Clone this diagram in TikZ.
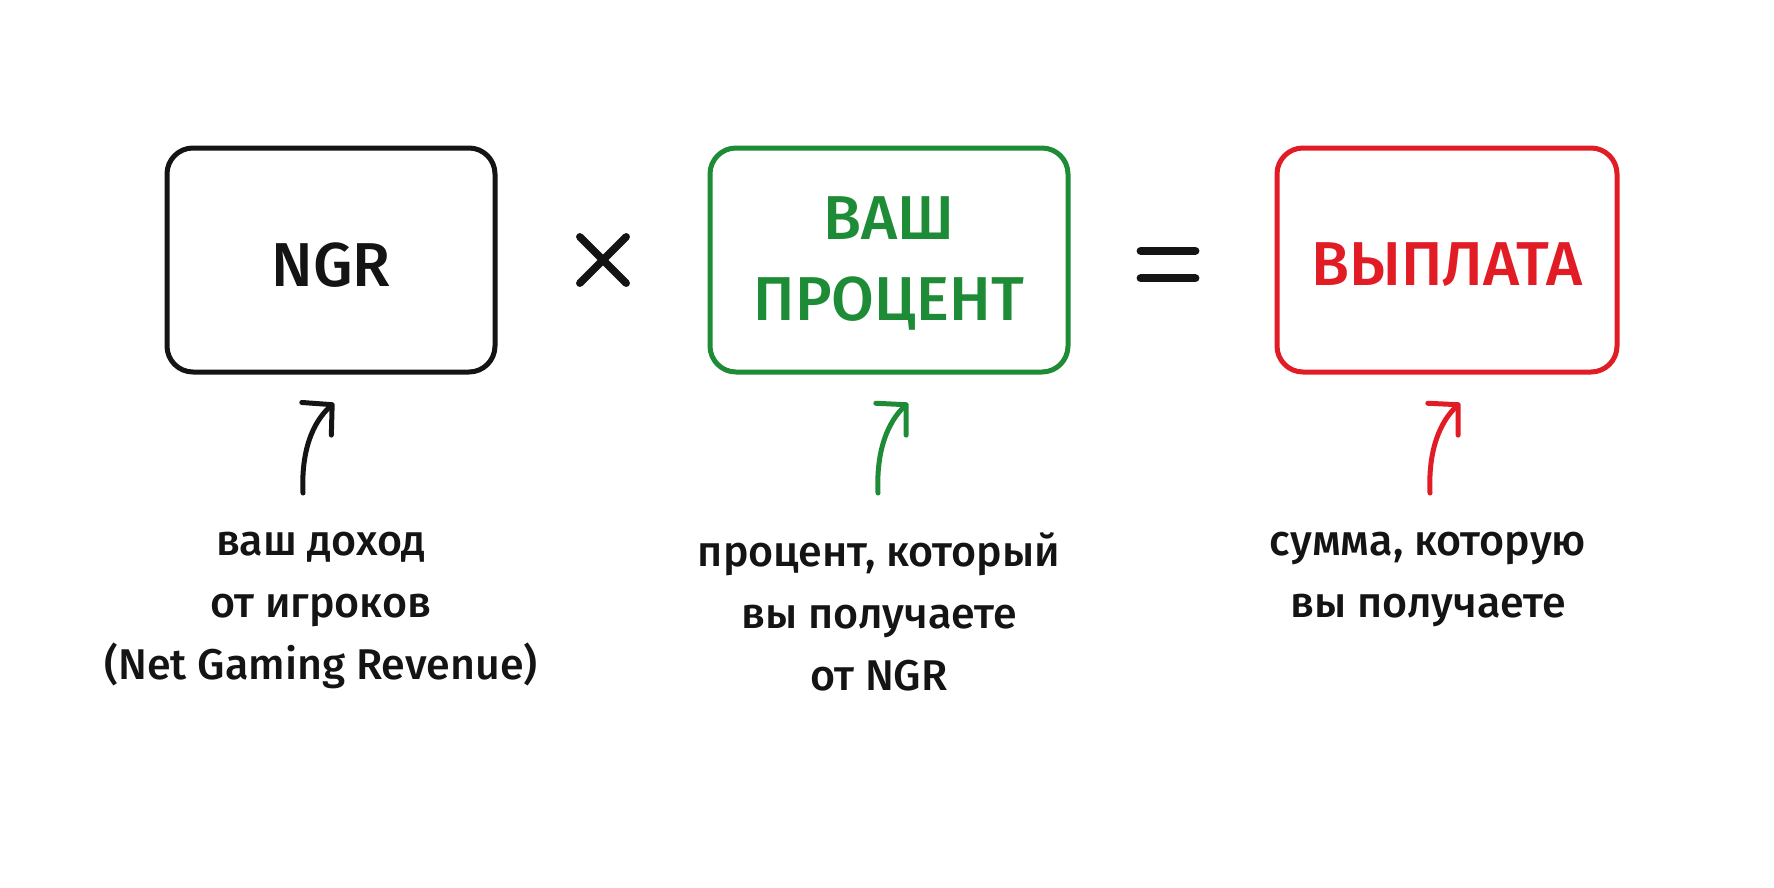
\documentclass[tikz,border=0pt]{standalone}
\usepackage{fontspec}
\setmainfont{Fira Sans}
\newfontfamily\medfont{Fira Sans Medium}
\usetikzlibrary{arrows.meta}
\definecolor{ink}{RGB}{20,20,20}
\definecolor{grn}{RGB}{30,140,55}
\definecolor{rd}{RGB}{226,28,36}
\tikzset{
  termbox/.style={draw, line width=5pt, rounded corners=26pt, minimum height=224pt},
  boxtext/.style={align=center, font=\medfont\fontsize{62}{80}\selectfont},
  caption/.style={align=center, font=\medfont\fontsize{43}{62}\selectfont, text=ink, anchor=north},
  uparrow/.style={line width=5pt, line cap=round, -{Straight Barb[length=21pt, width=44pt, line width=5pt, round]}},
  opsym/.style={line width=7.5pt, line cap=round, ink}
}
\begin{document}
\begin{tikzpicture}[x=1pt,y=-1pt]
\useasboundingbox[fill=white] (0,0) rectangle (1774,887);
% boxes
\node[termbox, ink, minimum width=328pt] (ngr) at (331,260) {};
\node[termbox, grn, minimum width=358pt] (pct) at (889,260) {};
\node[termbox, rd, minimum width=340pt] (pay) at (1447,260) {};
\node[boxtext, text=ink] (ngrt) at ([yshift=-5pt]ngr.center) {NGR};
\node[boxtext, text=grn] (pctt) at ([yshift=-3pt]pct.center) {ВАШ\\[1pt]ПРОЦЕНТ};
\node[boxtext, text=rd] (payt) at ([yshift=-5pt]pay.center) {ВЫПЛАТА};
% operators
\node[minimum size=46pt, inner sep=0pt] (times) at (603,260) {};
\draw[opsym] (times.north west) -- (times.south east);
\draw[opsym] (times.north east) -- (times.south west);
\node[minimum width=54pt, minimum height=27pt, inner sep=0pt] (eq) at (1168,264.5) {};
\draw[opsym, line width=8.5pt] (eq.north west) -- (eq.north east);
\draw[opsym, line width=8.5pt] (eq.south west) -- (eq.south east);
% captions
\node[caption] (c1) at (321,529) {ваш доход\\от игроков\\(Net Gaming Revenue)};
\node[caption] (c2) at (879,529) {процент, который\\вы получаете\\от NGR};
\node[caption] (c3) at (1428,529) {сумма, которую\\вы получаете};
% arrows
\coordinate (a1s) at (303,493);
\coordinate (a1e) at (334,403);
\coordinate (a2s) at (878,493);
\coordinate (a2e) at (908,403);
\coordinate (a3s) at (1430,493);
\coordinate (a3e) at (1460,403);
\draw[uparrow, ink] (a1s) .. controls (301,450) and (313,422) .. (a1e);
\draw[uparrow, grn] (a2s) .. controls (876,450) and (888,422) .. (a2e);
\draw[uparrow, rd] (a3s) .. controls (1428,450) and (1440,422) .. (a3e);
\end{tikzpicture}
\end{document}
